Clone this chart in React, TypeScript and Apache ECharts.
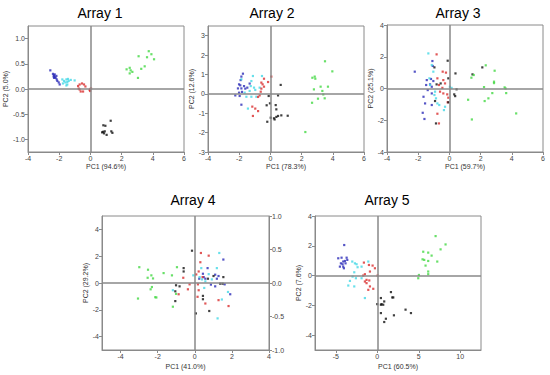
import React, { useEffect, useRef } from "react";
import * as echarts from "echarts";

const groupNames = ["blue", "cyan", "red", "black", "green"];
const groupColors = ["#2a2ab8", "#44d8e6", "#d92e2e", "#111111", "#44d844"];

// Array 1
const a1Blue = [[-2.57,0.37],[-2.40,0.30],[-2.33,0.27],[-2.29,0.24],[-2.23,0.22],[-2.33,0.22],[-2.16,0.19],[-2.12,0.16],[-2.03,0.13],[-1.97,0.09],[-2.29,0.29],[-2.18,0.26],[-2.36,0.25]];
const a1Cyan = [[-1.80,0.19],[-1.69,0.16],[-1.54,0.19],[-1.48,0.14],[-1.44,0.20],[-1.61,0.13],[-1.48,0.09],[-1.39,0.16],[-1.26,0.18],[-1.01,0.17],[-1.76,0.11],[-1.54,0.07]];
const a1Red = [[-0.79,0.06],[-0.69,0.09],[-0.54,0.11],[-0.41,0.09],[-0.32,0.05],[-0.69,-0.01],[-0.62,-0.05],[-0.47,-0.05],[-0.75,0.01],[-0.05,-0.02],[0.0,0.0],[0.04,0.01],[-0.02,-0.04]];
const a1Black = [[0.83,-0.72],[0.96,-0.73],[1.30,-0.63],[0.81,-0.85],[0.87,-0.88],[1.04,-0.91],[1.34,-0.84],[1.41,-0.87],[0.75,-0.86],[0.92,-0.84]];
const a1Green = [[2.32,0.39],[2.52,0.42],[2.58,0.37],[2.69,0.34],[2.52,0.31],[3.05,0.22],[3.26,0.40],[3.48,0.45],[3.09,0.65],[3.63,0.63],[3.74,0.75],[3.91,0.69],[4.08,0.59]];

// Array 2
const a2Blue = [[-1.76,1.04],[-1.86,0.89],[-1.91,0.71],[-2.01,0.49],[-1.93,0.44],[-2.08,0.28],[-2.01,0.06],[-2.25,-0.08],[-1.86,0.28],[-1.69,0.40],[-1.82,0.10],[-1.61,0.27],[-1.33,0.53],[-1.48,0.32],[-1.86,-0.56],[-1.97,-0.11]];
const a2Cyan = [[-1.86,0.75],[-1.12,0.92],[-0.54,0.92],[-1.22,0.66],[-1.26,0.40],[-1.05,0.32],[-0.97,0.20],[-1.65,0.06],[-1.54,-0.15],[-1.22,-0.15],[-0.90,-0.15],[-0.69,0.32],[-1.44,-0.76],[-1.33,0.15]];
const a2Red = [[0.06,0.89],[-0.41,0.78],[-0.58,0.58],[-0.50,0.49],[-0.41,0.37],[-0.15,0.61],[-0.62,0.11],[-0.69,-0.08],[-0.79,-0.16],[-1.16,-0.66],[-0.97,-0.76],[-0.79,-0.89],[-1.12,-1.14],[-0.58,0.27]];
const a2Black = [[0.66,0.46],[0.49,-0.08],[-0.11,-0.11],[-0.03,-0.49],[-0.24,-0.59],[0.34,-0.58],[0.38,-0.80],[0.02,-1.23],[0.23,-1.26],[0.38,-1.19],[0.49,-1.14],[0.70,-1.11],[1.11,-1.13],[-0.20,-1.44],[0.27,-1.32]];
const a2Green = [[3.50,1.68],[3.97,1.16],[2.69,0.83],[2.84,0.89],[2.88,0.78],[3.22,0.37],[3.69,0.37],[2.79,0.23],[3.33,0.15],[3.39,-0.03],[3.05,-0.25],[3.48,-0.23],[2.67,-0.46],[2.24,-1.97]];

// Array 3
const a3Blue = [[-2.22,1.06],[-1.09,1.73],[-1.07,1.42],[-1.45,0.53],[-1.18,0.60],[-1.03,0.47],[-1.49,0.22],[-1.13,0.11],[-1.39,-0.10],[-1.66,-0.52],[-1.13,-0.31],[-1.56,-0.94],[-1.13,-1.04],[-1.71,-1.53],[-1.60,-1.92],[-1.24,0.26]];
const a3Cyan = [[-1.35,2.21],[-1.13,1.48],[-1.03,1.06],[-1.28,0.64],[-1.24,0.22],[-0.92,-0.20],[-0.96,-0.41],[-0.77,-0.94],[-0.65,-1.04],[-0.35,-1.36],[-0.28,-1.15],[0.03,0.11],[0.14,0.04],[-0.86,-0.62]];
const a3Red = [[-0.82,2.15],[-0.43,1.06],[-0.22,1.00],[-0.77,0.64],[-0.39,0.53],[-0.67,0.22],[-0.45,0.04],[-0.60,-0.20],[-0.39,-0.31],[-0.14,-0.37],[-0.07,-0.58],[-0.77,-1.59],[-0.67,-2.20],[-0.11,-0.87],[-0.28,0.32]];
const a3Black = [[-0.11,1.75],[-0.96,1.33],[0.39,0.95],[-0.56,0.32],[-0.07,0.64],[-0.82,0.26],[0.46,-0.05],[0.31,-0.37],[0.37,-0.48],[-0.07,-0.87],[-0.86,-2.20],[-0.92,-0.79],[1.48,0.89],[2.11,1.33]];
const a3Green = [[2.33,1.46],[2.90,1.12],[1.41,0.68],[1.56,0.85],[2.22,0.09],[2.86,0.43],[2.86,0.34],[3.54,0.07],[3.60,0.0],[2.75,-0.29],[3.64,-0.29],[2.50,-0.62],[2.26,-0.79],[1.20,-0.71],[1.44,-1.95],[4.28,-1.57]];

// Array 4
const a4Blue = [[1.54,1.75],[0.69,1.11],[1.10,0.62],[1.28,0.52],[0.44,0.69],[0.48,0.44],[0.57,0.32],[1.19,0.32],[1.61,-0.10],[0.87,-0.12],[1.10,-0.25],[1.91,-0.84],[0.24,0.32]];
const a4Cyan = [[1.32,2.24],[1.19,1.11],[0.35,1.11],[0.75,0.66],[-0.08,0.57],[0.26,0.44],[0.39,0.27],[0.57,0.12],[0.51,-0.37],[-1.18,-0.54],[1.79,-0.67],[1.46,-1.23],[1.23,-2.64],[0.92,0.27]];
const a4Red = [[0.33,2.24],[0.75,2.04],[0.30,1.55],[0.21,0.86],[-0.62,0.39],[0.08,0.64],[-0.28,-0.10],[-0.37,-0.47],[-0.87,-0.84],[0.17,-0.10],[0.21,-0.54],[0.15,-1.03],[0.57,-1.53],[1.28,-1.28],[1.82,-1.72],[0.42,0.44]];
const a4Black = [[-0.15,2.41],[-0.60,1.11],[-0.60,0.86],[-1.01,-0.17],[-0.82,-0.25],[-1.05,-0.62],[-1.05,-1.35],[0.44,-0.96],[0.44,-1.21],[0.06,-2.27],[0.78,-2.09],[0.71,0.32],[1.01,0.52],[1.37,-0.05],[1.54,0.44],[1.50,-0.05]];
const a4Green = [[-2.99,1.18],[-2.52,0.99],[-2.54,0.39],[-2.34,0.57],[-2.25,0.34],[-1.68,0.74],[-1.23,0.57],[-0.96,1.18],[-2.31,-0.30],[-2.38,-0.47],[-3.06,-1.16],[-2.13,-1.06],[-2.07,-1.08],[-1.01,-0.81],[-1.18,-1.77]];

// Array 5
const a5Blue = [[-3.98,2.05],[-4.70,1.16],[-4.30,1.20],[-3.69,1.20],[-3.61,1.05],[-4.10,0.94],[-3.82,0.82],[-4.18,0.76],[-4.50,0.60],[-4.10,0.60],[-4.02,0.49],[-4.38,0.82],[-3.90,0.98]];
const a5Cyan = [[-3.01,0.94],[-2.69,0.82],[-2.49,0.76],[-2.37,0.56],[-1.89,0.60],[-1.08,0.94],[-2.77,0.22],[-2.97,-0.07],[-2.57,-0.18],[-1.89,-0.18],[-3.29,-0.36],[-3.49,-0.67],[-2.77,-0.73],[-1.49,-1.51]];
const a5Red = [[-1.61,0.87],[-1.00,0.71],[-0.56,0.67],[-0.28,0.49],[-0.88,0.27],[-1.49,0.09],[-1.69,0.0],[-1.29,-0.29],[-0.96,-0.33],[-1.29,-0.51],[-0.88,-0.73],[-1.08,-0.96],[-0.48,-0.89],[0.04,0.0],[-1.49,-0.40]];
const a5Black = [[1.65,-1.11],[1.81,-1.47],[1.93,-1.47],[0.44,-1.51],[0.84,-1.74],[0.72,-1.96],[0.44,-1.96],[0.0,-1.92],[0.52,-1.92],[0.44,-2.52],[1.04,-2.90],[0.84,-3.12],[2.01,-2.67],[3.41,-2.29],[4.06,-2.52]];
const a5Green = [[7.03,2.65],[8.23,2.09],[7.63,1.76],[5.54,1.60],[6.14,1.54],[6.55,1.34],[5.46,1.09],[5.66,1.05],[6.14,0.98],[7.23,0.94],[5.82,0.67],[6.14,0.27],[6.14,0.09],[5.02,0.04],[4.94,-0.18]];

const panelData = [
  [a1Blue, a1Cyan, a1Red, a1Black, a1Green],
  [a2Blue, a2Cyan, a2Red, a2Black, a2Green],
  [a3Blue, a3Cyan, a3Red, a3Black, a3Green],
  [a4Blue, a4Cyan, a4Red, a4Black, a4Green],
  [a5Blue, a5Cyan, a5Red, a5Black, a5Green],
];

const titles = ["Array 1", "Array 2", "Array 3", "Array 4", "Array 5"];
const xNames = ["PC1 (94.6%)", "PC1 (78.3%)", "PC1 (59.7%)", "PC1 (41.0%)", "PC1 (60.5%)"];
const yNames = ["PC2 (5.0%)", "PC2 (12.6%)", "PC2 (25.1%)", "PC2 (29.2%)", "PC2 (7.6%)"];
const xRanges = [[-4, 6], [-4, 6], [-4, 6], [-5, 4], [-7.5, 12.5]];
const yRanges = [[-1.25, 1.25], [-3, 3.5], [-4, 4], [-5, 5], [-5, 4]];
const xTicks = [[-4, -2, 0, 2, 4, 6], [-4, -2, 0, 2, 4, 6], [-4, -2, 0, 2, 4, 6], [-4, -2, 0, 2, 4], [-5, 0, 5, 10]];
const yTicks = [[-1, -0.5, 0, 0.5, 1], [-3, -2, -1, 0, 1, 2, 3], [-4, -2, 0, 2, 4], [-4, -2, 0, 2, 4], [-4, -2, 0, 2, 4]];
const rightTicks4 = [-1, -0.5, 0, 0.5, 1];

const grids = [
  { left: 28, top: 26, width: 156, height: 126 },
  { left: 208, top: 26, width: 156, height: 126 },
  { left: 387, top: 25, width: 156, height: 127 },
  { left: 102, top: 216, width: 167, height: 134 },
  { left: 315, top: 216, width: 166, height: 134 },
];
const titlePos = [[100, 13], [272, 13], [458, 13], [193, 200], [387, 200]];
const yNameGaps = [17, 12, 11, 13, 11];
const xNameGaps = [11, 11, 11, 13, 13];

const FONT = "Liberation Sans, Arial, sans-serif";
const AXIS_COLOR = "#8a8a8a";

export default function App() {
  const ref = useRef<HTMLDivElement>(null);
  useEffect(() => {
    if (!ref.current) return;
    const chart = echarts.init(ref.current, null, { renderer: "svg" });

    const fmt1 = (v: number) => v.toFixed(1);
    const axisCommon = (ticks: number[], formatter?: (v: number) => string) => ({
      type: "value",
      axisLine: { show: true, onZero: false, lineStyle: { color: AXIS_COLOR, width: 1 } },
      axisTick: { show: true, inside: false, length: 3, customValues: ticks, lineStyle: { color: AXIS_COLOR } },
      axisLabel: {
        show: true,
        customValues: ticks,
        fontSize: 7,
        color: "#444",
        fontFamily: FONT,
        margin: 3,
        formatter: formatter ? (v: number) => formatter(v) : (v: number) => String(v),
      },
      splitLine: { show: false },
      nameLocation: "middle",
      nameTextStyle: { fontSize: 7, color: "#333", fontFamily: FONT },
    });

    const xAxis = grids.map((_, i) => ({
      ...axisCommon(xTicks[i]),
      gridIndex: i,
      position: "bottom",
      min: xRanges[i][0],
      max: xRanges[i][1],
      name: xNames[i],
      nameGap: xNameGaps[i],
    }));

    const yAxis: any[] = grids.map((_, i) => ({
      ...axisCommon(yTicks[i], i === 0 ? fmt1 : undefined),
      gridIndex: i,
      position: "left",
      min: yRanges[i][0],
      max: yRanges[i][1],
      name: yNames[i],
      nameGap: yNameGaps[i],
    }));
    yAxis.push({
      ...axisCommon(rightTicks4, fmt1),
      gridIndex: 3,
      position: "right",
      min: -1,
      max: 1,
    });

    const series: any[] = [];
    panelData.forEach((groups, p) => {
      groups.forEach((pts, g) => {
        series.push({
          type: "scatter",
          name: `${titles[p]} ${groupNames[g]}`,
          xAxisIndex: p,
          yAxisIndex: p,
          data: pts,
          symbol: "rect",
          symbolSize: 2.2,
          itemStyle: { color: groupColors[g] },
          z: 3,
          markLine:
            g === 0
              ? {
                  silent: true,
                  symbol: "none",
                  label: { show: false },
                  lineStyle: { color: "#888", width: 1.5, type: "solid" },
                  data: [{ xAxis: 0 }, { yAxis: 0 }],
                }
              : undefined,
        });
      });
    });

    chart.setOption({
      animation: false,
      backgroundColor: "#ffffff",
      grid: grids.map((g) => ({
        ...g,
        show: true,
        borderColor: AXIS_COLOR,
        borderWidth: 1,
        backgroundColor: "transparent",
        containLabel: false,
      })),
      xAxis,
      yAxis,
      series,
      graphic: titles.map((t, i) => ({
        type: "text",
        x: titlePos[i][0],
        y: titlePos[i][1],
        style: {
          text: t,
          align: "center",
          verticalAlign: "middle",
          fontSize: 14,
          fontFamily: FONT,
          fill: "#000",
        },
      })),
    });

    return () => chart.dispose();
  }, []);

  return (
    <div
      ref={ref}
      style={{ position: "absolute", left: 0, top: 0, width: 550, height: 375, background: "#fff" }}
    />
  );
}
